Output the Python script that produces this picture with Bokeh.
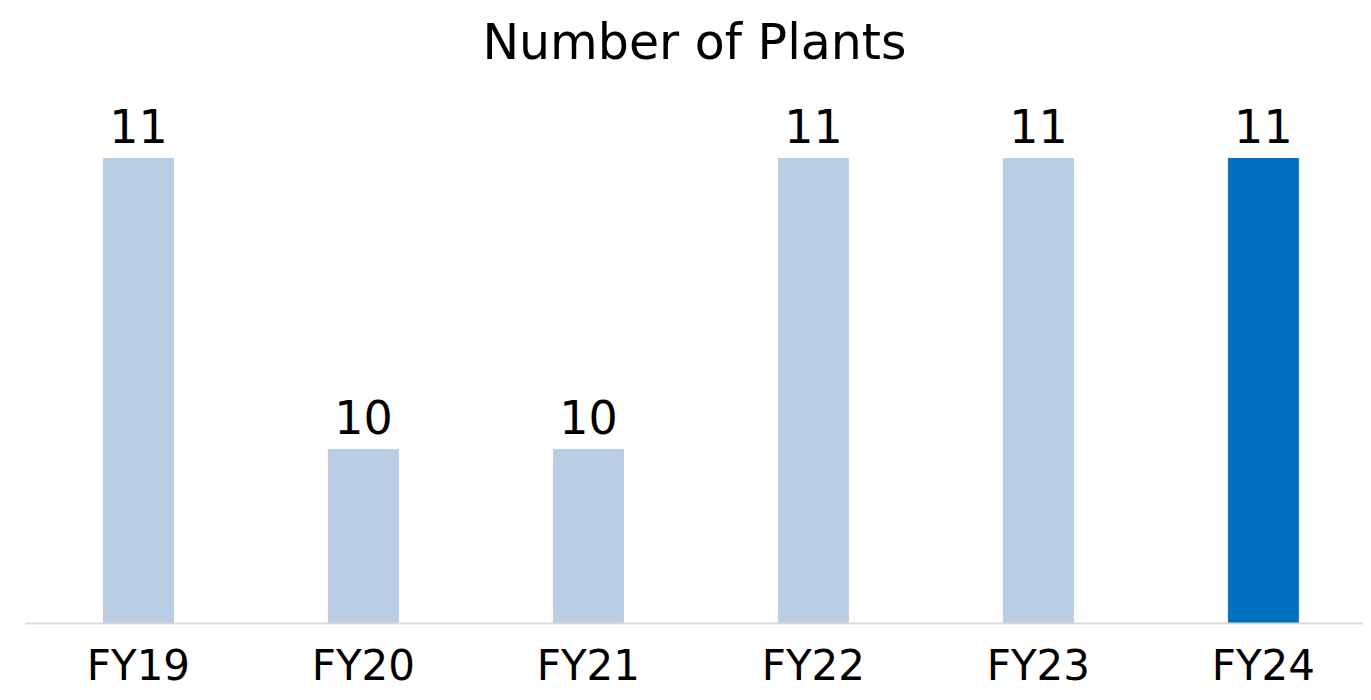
from bokeh.plotting import figure
from bokeh.models import ColumnDataSource, Range1d, FixedTicker, LabelSet, Title
from bokeh.core.properties import value
from bokeh.embed import file_html
from bokeh.resources import INLINE

categories = ["FY19", "FY20", "FY21", "FY22", "FY23", "FY24"]
values = [11, 10, 10, 11, 11, 11]
colors = ["#B9CDE5", "#B9CDE5", "#B9CDE5", "#B9CDE5", "#B9CDE5", "#0070C0"]
title_text = "Number of Plants"

FONT = "DejaVu Sans"
Y0 = 9.402
idx = list(range(len(categories)))

src = ColumnDataSource(dict(x=idx, top=values, color=colors,
                            label=[str(v) for v in values]))

p = figure(width=1363, height=692, output_backend="svg", toolbar_location=None,
           x_range=Range1d(-0.502, 5.445), y_range=Range1d(Y0, 11.268),
           min_border_left=25, min_border_right=0, min_border_bottom=69,
           min_border_top=80)
p.title = None
t = Title(text=title_text, align="center", text_font=FONT, text_font_size="49px",
          text_font_style="normal", text_color="#000000", standoff=19)
p.add_layout(t, "above")

p.vbar(x="x", top="top", bottom=Y0, width=0.311, color="color", source=src)

labels = LabelSet(x="x", y="top", text="label", source=src, text_align="center",
                  text_baseline="alphabetic", y_offset=15, text_font=value(FONT),
                  text_font_size="46px", text_color="#000000")
p.add_layout(labels)

p.yaxis.visible = False
p.xgrid.visible = False
p.ygrid.visible = False
p.outline_line_color = None
p.xaxis.ticker = FixedTicker(ticks=idx)
p.xaxis.major_label_overrides = {i: c for i, c in zip(idx, categories)}
p.xaxis.major_tick_line_color = None
p.xaxis.major_tick_out = 0
p.xaxis.major_tick_in = 0
p.xaxis.minor_tick_line_color = None
p.xaxis.axis_line_color = "#D9D9D9"
p.xaxis.axis_line_width = 2
p.xaxis.major_label_text_font = FONT
p.xaxis.major_label_text_font_size = "42px"
p.xaxis.major_label_text_color = "#000000"
p.xaxis.major_label_standoff = 17

open("out.html", "w").write(file_html(p, INLINE))
